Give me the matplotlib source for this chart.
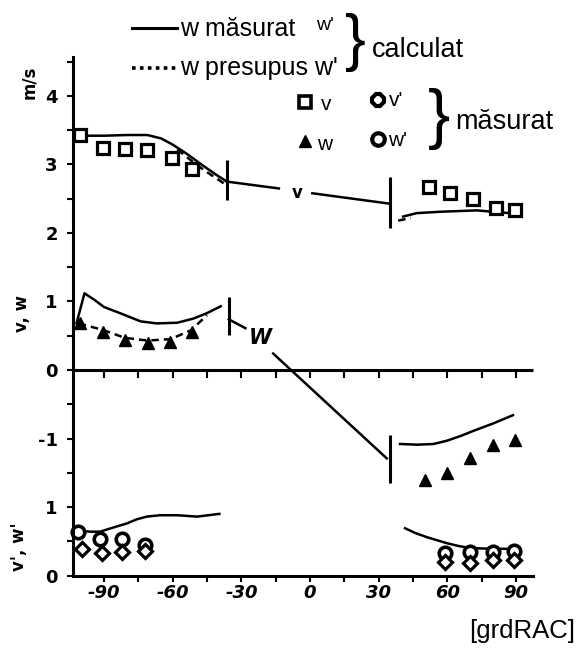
import matplotlib
matplotlib.use("Agg")
import matplotlib.pyplot as plt
from matplotlib.markers import TICKDOWN

# viteza v, w (sus) si v', w' (jos) in functie de unghiul [grdRAC]
# --- v [m/s] ---
v_calc_x = [-102, -90, -80, -71, -65, -60, -54, -47, -41, -36.3]
v_calc_y = [3.42, 3.42, 3.43, 3.43, 3.38, 3.29, 3.16, 2.99, 2.85, 2.75]
v_pres_x = [-58, -52, -46, -41, -37]
v_pres_y = [3.22, 3.06, 2.91, 2.80, 2.71]
v_mid1_x = [-36.3, -13.6]
v_mid1_y = [2.75, 2.65]
v_mid2_x = [1, 34.3]
v_mid2_y = [2.58, 2.43]
v_right_x = [40.7, 46.6, 56.8, 72.8, 87]
v_right_y = [2.24, 2.29, 2.31, 2.33, 2.29]
v_right_pres_x = [38.5, 44]
v_right_pres_y = [2.18, 2.22]
v_meas_x = [-100.4, -90.2, -80.8, -71.3, -60.4, -51.7, 52, 61, 71, 81, 89.5]
v_meas_y = [3.43, 3.24, 3.22, 3.21, 3.09, 2.94, 2.67, 2.58, 2.50, 2.37, 2.33]

# --- w ---
w_calc_x = [-102, -98.5, -94, -90, -83, -74, -67, -58, -51, -45, -39]
w_calc_y = [0.68, 1.12, 1.02, 0.92, 0.83, 0.71, 0.68, 0.69, 0.75, 0.83, 0.93]
w_pres_x = [-101, -90, -81, -71, -61, -52, -45]
w_pres_y = [0.68, 0.58, 0.47, 0.43, 0.45, 0.58, 0.80]
w_mid1_x = [-35.5, -28.2]
w_mid1_y = [0.74, 0.61]
w_mid2_x = [-16.1, 33.5]
w_mid2_y = [0.24, -1.29]
w_right_x = [39.3, 47, 54, 60, 66, 72, 80, 88.6]
w_right_y = [-1.08, -1.09, -1.08, -1.03, -0.96, -0.88, -0.78, -0.66]
w_meas_x = [-100.4, -90.3, -80.8, -70.6, -61.1, -51.7, 50, 60, 70, 80, 89.5]
w_meas_y = [0.68, 0.56, 0.44, 0.39, 0.41, 0.56, -1.61, -1.51, -1.29, -1.09, -1.02]

# --- v', w' (scara de jos) ---
pr_left_x = [-102.6, -96, -91.7, -86, -80, -75.7, -71.3, -65.5, -58, -49.3, -39.6]
pr_left_y = [0.66, 0.64, 0.64, 0.70, 0.76, 0.82, 0.86, 0.88, 0.88, 0.86, 0.90]
pr_right_x = [41.5, 46, 51, 56, 60, 65, 70, 80, 88.6]
pr_right_y = [0.69, 0.62, 0.56, 0.51, 0.47, 0.43, 0.40, 0.39, 0.39]
wp_meas_x = [-101.2, -91.7, -82.2, -72, 59, 70, 80, 89]
wp_meas_y = [0.64, 0.54, 0.54, 0.44, 0.33, 0.34, 0.35, 0.36]
vp_meas_x = [-99.7, -91, -82.2, -72, 59, 70, 80, 89]
vp_meas_y = [0.38, 0.33, 0.34, 0.36, 0.20, 0.19, 0.22, 0.22]

# limitele zonelor (linii verticale)
sep_x = [-36.3, 35.1, -35.5, 35.1]
sep_lo = [2.48, 2.07, 0.51, -1.65]
sep_hi = [3.07, 2.82, 1.07, -0.95]

x_major = [-90, -60, -30, 0, 30, 60, 90]
x_labels = ["-90", "-60", "-30", "0", "30", "60", "90"]
x_minor = [-75, -45, -15, 15, 45, 75]
y_major = [4, 3, 2, 1, 0, -1, -2, -3]
y_labels = ["4", "3", "2", "1", "0", "-1", "1", "0"]
y_minor = [4.5, 3.5, 2.5, 1.5, 0.5, -0.5, -1.5, -2.5]

OFFSET = 3.0
AXIS_LEFT = -103.5
AXIS_RIGHT = 97.5

W, H = 580, 648


def fxy(px, py):
    return px / W, 1 - py / H


fig = plt.figure(figsize=(W / 100, H / 100), dpi=100)
ax = fig.add_axes([0, 0, 1, 1])
ax.patch.set_visible(False)
ax.set_xlim(-135.4, 117.9)
ax.set_ylim(-4.058, 5.401)

for s in ("top", "right"):
    ax.spines[s].set_visible(False)
ax.spines["left"].set_position(("data", AXIS_LEFT))
ax.spines["left"].set_bounds(-OFFSET, 4.57)
ax.spines["bottom"].set_position(("data", -OFFSET))
ax.spines["bottom"].set_bounds(AXIS_LEFT, AXIS_RIGHT)
for s in ("left", "bottom"):
    ax.spines[s].set_linewidth(2.2)

ax.set_xticks(x_major)
ax.set_xticklabels(x_labels, fontsize=13, fontweight="bold", fontstyle="italic")
ax.set_xticks(x_minor, minor=True)
ax.set_yticks(y_major)
ax.set_yticklabels(y_labels, fontsize=13, fontweight="bold")
ax.set_yticks(y_minor, minor=True)
ax.tick_params(axis="both", which="both", direction="out", length=4, width=1.5)
ax.tick_params(axis="x", pad=2)
ax.tick_params(axis="y", pad=7)

# axa de zero a scarii de sus
ax.hlines(0, AXIS_LEFT, AXIS_RIGHT, color="k", lw=2.2)
ax.plot(x_major + x_minor, [0] * 13, ls="", marker=TICKDOWN, ms=5.5, mew=1.5, color="k")

lw = 1.8
k = "black"
dash = (0, (3, 2))

# v
ax.plot(v_calc_x, v_calc_y, color=k, lw=lw)
ax.plot(v_pres_x, v_pres_y, color=k, lw=lw, ls=dash)
ax.plot(v_mid1_x, v_mid1_y, color=k, lw=lw)
ax.plot(v_mid2_x, v_mid2_y, color=k, lw=lw)
ax.plot(v_right_x, v_right_y, color=k, lw=lw)
ax.plot(v_right_pres_x, v_right_pres_y, color=k, lw=lw, ls=dash)
ax.plot(v_meas_x, v_meas_y, ls="", marker="s", ms=8, mfc="white", mec=k, mew=2.3)

# w
ax.plot(w_calc_x, w_calc_y, color=k, lw=lw)
ax.plot(w_pres_x, w_pres_y, color=k, lw=lw, ls=dash)
ax.plot(w_mid1_x, w_mid1_y, color=k, lw=lw)
ax.plot(w_mid2_x, w_mid2_y, color=k, lw=lw)
ax.plot(w_right_x, w_right_y, color=k, lw=lw)
ax.plot(w_meas_x, w_meas_y, ls="", marker="^", ms=8, color=k)

# v', w'
ax.plot(pr_left_x, [y - OFFSET for y in pr_left_y], color=k, lw=lw)
ax.plot(pr_right_x, [y - OFFSET for y in pr_right_y], color=k, lw=lw)
ax.plot(wp_meas_x, [y - OFFSET for y in wp_meas_y], ls="", marker="o",
        ms=9, mfc="white", mec=k, mew=2.6)
ax.plot(vp_meas_x, [y - OFFSET for y in vp_meas_y], ls="", marker="D",
        ms=7, mfc="white", mec=k, mew=2.3)

ax.vlines(sep_x, sep_lo, sep_hi, color=k, lw=2.2)

ax.text(-5.5, 2.58, "v", fontsize=12, fontweight="bold", ha="center", va="center")
ax.text(-21.7, 0.46, "W", fontsize=15, fontweight="bold", fontstyle="italic",
        ha="center", va="center")

# etichetele axei verticale
ax.text(-122.7, 4.2, "m/s", rotation=90, fontsize=12, fontweight="bold",
        ha="center", va="center")
ax.text(-125.8, 0.83, "v, w", rotation=90, fontsize=12, fontweight="bold",
        ha="center", va="center")
ax.text(-127, 0.42 - OFFSET, "v', w'", rotation=90, fontsize=12, fontweight="bold",
        ha="center", va="center")

# legenda
sans = "Liberation Sans"
tf = fig.transFigure
ax.plot(*zip(fxy(132, 28), fxy(177, 28)), transform=tf, color=k, lw=2.2, clip_on=False)
ax.plot(*zip(fxy(132, 68), fxy(177, 68)), transform=tf, color=k, lw=2.6,
        ls=(0, (1, 1.2)), clip_on=False)
fig.text(*fxy(180, 29), "w măsurat", family=sans, fontsize=18, va="center")
fig.text(*fxy(316, 25), "w'", family=sans, fontsize=14, va="center")
fig.text(*fxy(180, 68), "w presupus w'", family=sans, fontsize=18, va="center")
fig.text(*fxy(345, 59), "}", family=sans, fontsize=45, va="baseline")
fig.text(*fxy(372, 50), "calculat", family=sans, fontsize=19.5, va="center")

ax.plot(*fxy(305, 102), transform=tf, marker="s", ms=8, mfc="white", mec=k,
        mew=2.6, clip_on=False)
fig.text(*fxy(321, 105), "v", family=sans, fontsize=15, va="center")
ax.plot(*fxy(378, 100), transform=tf, marker="8", ms=9, mfc="white", mec=k,
        mew=3, clip_on=False)
fig.text(*fxy(389, 101), "v'", family=sans, fontsize=15, va="center")
ax.plot(*fxy(305, 141), transform=tf, marker="^", ms=8, color=k, clip_on=False)
fig.text(*fxy(317, 145), "w", family=sans, fontsize=15, va="center")
ax.plot(*fxy(378, 139), transform=tf, marker="o", ms=9, mfc="white", mec=k,
        mew=3, clip_on=False)
fig.text(*fxy(388, 141), "w'", family=sans, fontsize=15, va="center")
fig.text(*fxy(428, 136), "}", family=sans, fontsize=48, va="baseline")
fig.text(*fxy(455, 122), "măsurat", family=sans, fontsize=19.5, va="center")

fig.text(*fxy(575, 631), "[grdRAC]", family=sans, fontsize=18.5, ha="right", va="center")

fig.savefig("out.png", dpi=100)
